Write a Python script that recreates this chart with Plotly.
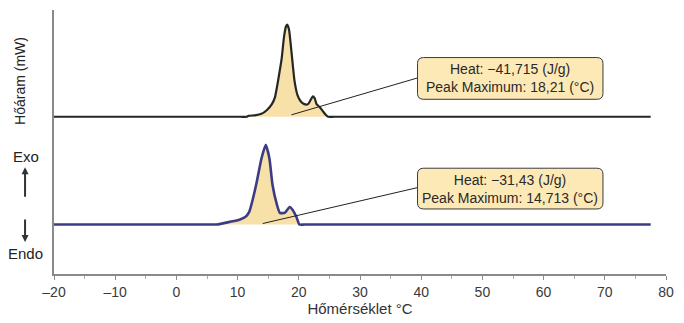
import plotly.graph_objects as go

# ---- data ----
# Sample 1 (upper curve): temperature (°C) and heat-flow signal above baseline (arbitrary mW scale)
top_temp = [-20, 10.5, 11.5, 11.8, 12.8, 13.9, 14.8, 15.6, 16.1, 16.5, 16.9, 17.2, 17.6, 17.9, 18.1,
            18.4, 18.8, 19.3, 19.8, 20.3, 20.9, 21.5, 21.9, 22.3, 22.6, 22.9, 23.4, 23.9,
            24.4, 24.8, 25.8, 77.5]
top_flow = [0, 0, 0, 0.1, 0.15, 0.3, 0.7, 1.3, 2.0, 3.3, 4.8, 6.0, 8.3, 9.3, 9.5,
            9.0, 6.7, 3.7, 2.2, 1.6, 1.3, 1.3, 1.7, 2.1, 1.9, 1.3, 1.0, 0.6,
            0.2, 0, 0, 0]

# Sample 2 (lower curve)
bot_temp = [-20, 5.5, 6.6, 8.7, 10.3, 11.3, 11.9, 12.4, 13.1, 13.9, 14.6, 15.2, 15.7, 16.4, 16.9,
            17.7, 18.5, 19.0, 19.6, 20.1, 21.0, 77.5]
bot_flow = [0, 0, 0, 0.27, 0.5, 0.8, 1.3, 2.4, 4.3, 6.8, 8.2, 6.8, 4.1, 2.1, 1.2,
            1.2, 1.8, 1.5, 0.8, 0, 0, 0]

top_offset = 16.2
bot_offset = 5.1

labels = ["Heat: \u221241,715 (J/g)<br>Peak Maximum: 18,21 (°C)",
          "Heat: \u221231,43 (J/g)<br>Peak Maximum: 14,713 (°C)"]
callout_from = [(18.8, 16.4), (14.1, 5.2)]
callout_to = [(39.4, 20.2), (39.4, 8.9)]
box_y = [(18.0, 22.3), (6.7, 10.9)]
box_x = (39.4, 69.7)

x_ticks = [-20, -10, 0, 10, 20, 30, 40, 50, 60, 70, 80]
x_tick_text = ["\u201320", "\u201310", "0", "10", "20", "30", "40", "50", "60", "70", "80"]

FONT = "Liberation Sans, Arial, sans-serif"
FILL = "#f8e1a8"

fig = go.Figure()


def peak_part(temps, flows):
    imax = flows.index(max(flows))
    i0 = max(i for i, f in enumerate(flows) if f == 0 and i < imax)
    i1 = min(i for i, f in enumerate(flows) if f == 0 and i > imax)
    return temps[i0:i1 + 1], flows[i0:i1 + 1]


for temps, flows, off, col, w in [(top_temp, top_flow, top_offset, "#262626", 2.2),
                                  (bot_temp, bot_flow, bot_offset, "#3c3c84", 2.6)]:
    pt, pf = peak_part(temps, flows)
    fig.add_trace(go.Scatter(x=pt, y=[f + off for f in pf], mode="lines", fill="toself",
                             fillcolor=FILL,
                             line=dict(width=0, color=FILL, shape="spline", smoothing=0.5),
                             hoverinfo="skip", showlegend=False))
    fig.add_trace(go.Scatter(x=temps, y=[f + off for f in flows], mode="lines",
                             line=dict(color=col, width=w, shape="spline", smoothing=0.5),
                             showlegend=False))

# callout lines
for (x0, y0), (x1, y1) in zip(callout_from, callout_to):
    fig.add_shape(type="line", x0=x0, y0=y0, x1=x1, y1=y1, xref="x", yref="y",
                  line=dict(color="#222222", width=1))

# rounded callout boxes
rx, ry = 1.0, 0.6
for (y0, y1), lab in zip(box_y, labels):
    x0, x1 = box_x
    path = (f"M {x0+rx},{y0} L {x1-rx},{y0} Q {x1},{y0} {x1},{y0+ry} "
            f"L {x1},{y1-ry} Q {x1},{y1} {x1-rx},{y1} L {x0+rx},{y1} "
            f"Q {x0},{y1} {x0},{y1-ry} L {x0},{y0+ry} Q {x0},{y0} {x0+rx},{y0} Z")
    fig.add_shape(type="path", path=path, xref="x", yref="y",
                  fillcolor="#fde9b6", line=dict(color="#3a3a3a", width=1))
    fig.add_annotation(x=(x0 + x1) / 2, y=(y0 + y1) / 2, xref="x", yref="y",
                       xanchor="center", yanchor="middle",
                       text=lab, showarrow=False, align="center",
                       font=dict(family=FONT, size=14, color="#2a2a2a"))


# Exo / Endo markers (positions given in page pixels, converted to paper coords)
def py(pix):
    return (282 - pix) / 272


def px(pix):
    return (pix - 54) / 613


fig.add_annotation(x=px(26), y=py(161), xref="paper", yref="paper", text="Exo",
                   xanchor="center", yanchor="middle",
                   showarrow=False, font=dict(family=FONT, size=15, color="#222"))
fig.add_annotation(x=px(25), y=py(261), xref="paper", yref="paper", text="Endo",
                   xanchor="center", yanchor="middle",
                   showarrow=False, font=dict(family=FONT, size=15, color="#222"))
fig.add_annotation(x=px(25), y=py(172), xref="paper", yref="paper", ax=0, ay=31,
                   text="", showarrow=True, arrowhead=2, arrowsize=0.7, arrowwidth=2,
                   arrowcolor="#333")
fig.add_annotation(x=px(25), y=py(249), xref="paper", yref="paper", ax=0, ay=-24,
                   text="", showarrow=True, arrowhead=2, arrowsize=0.7, arrowwidth=2,
                   arrowcolor="#333")
fig.add_annotation(x=px(20), y=py(83), xref="paper", yref="paper", text="Hőáram (mW)",
                   xanchor="center", yanchor="middle",
                   textangle=-90, showarrow=False,
                   font=dict(family=FONT, size=14, color="#222"))

fig.update_layout(
    width=684, height=323,
    margin=dict(l=54, r=17, t=10, b=41),
    paper_bgcolor="white", plot_bgcolor="white",
    font=dict(family=FONT, size=14, color="#333"),
    xaxis=dict(range=[-20, 80], tickvals=x_ticks, ticktext=x_tick_text,
               showgrid=False, zeroline=False, showline=True, linecolor="#8a8a8a",
               linewidth=1.5, ticks="outside", ticklen=4, tickcolor="#8a8a8a",
               tickfont=dict(family=FONT, size=14, color="#3a3a3a"),
               minor=dict(dtick=5, tick0=-20, ticks="outside", ticklen=3, tickcolor="#aaaaaa"),
               title=dict(text="Hőmérséklet °C", standoff=3,
                          font=dict(family=FONT, size=15, color="#333"))),
    yaxis=dict(range=[0, 27.2], showgrid=False, zeroline=False, showticklabels=False,
               showline=True, linecolor="#8a8a8a", linewidth=1.5, ticks=""),
)

fig.write_html("out.html", config={"displayModeBar": False},
               post_script="document.body.style.margin='0px';")
